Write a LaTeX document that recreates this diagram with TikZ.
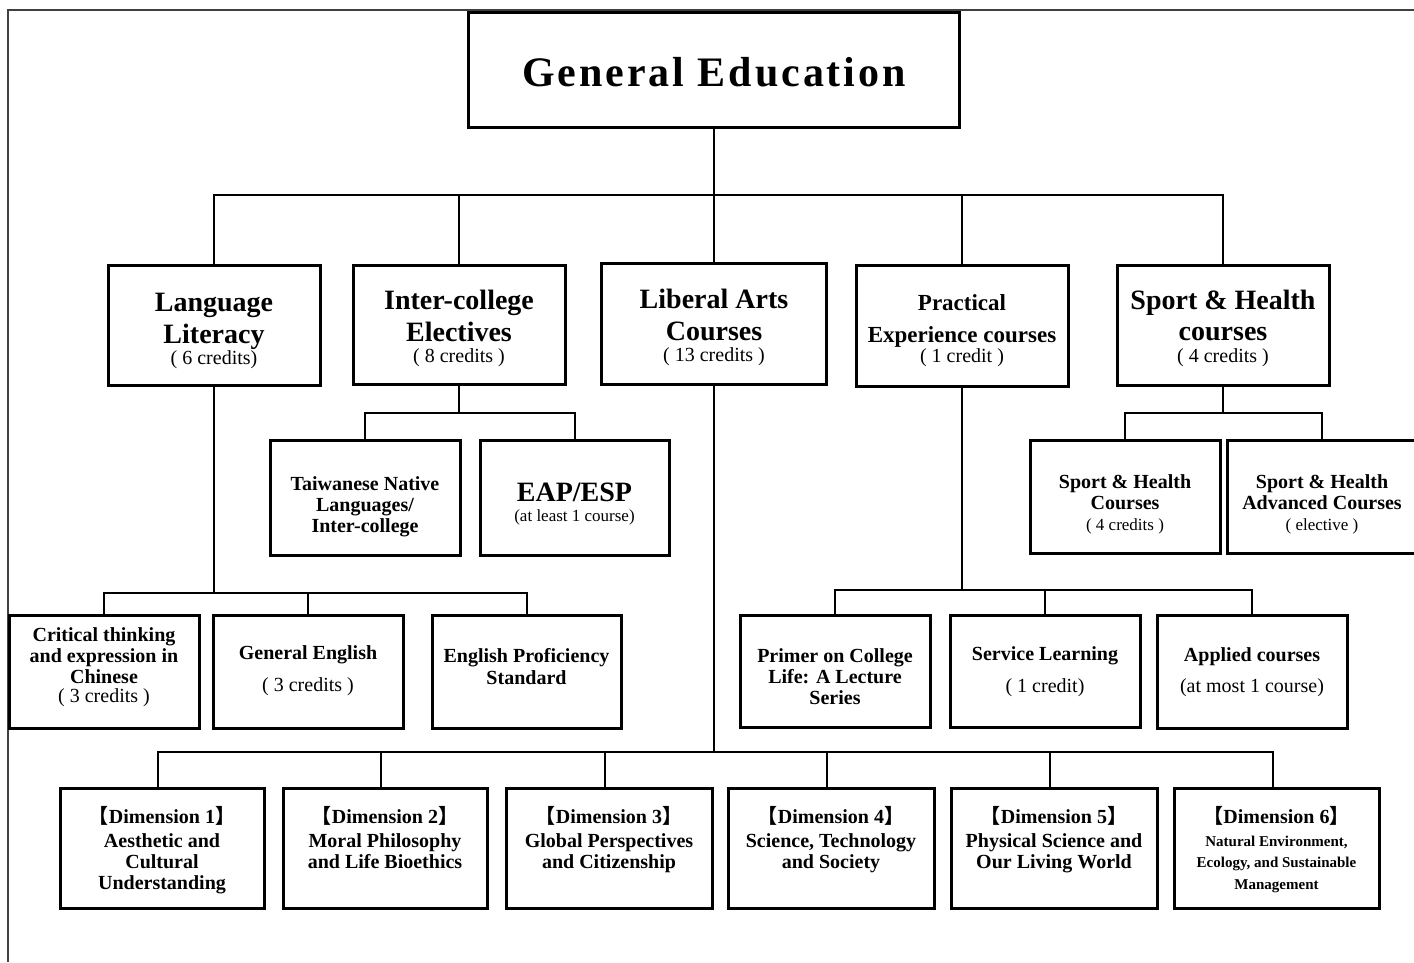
\documentclass[tikz,border=0pt]{standalone}
\usepackage{fontspec}
\setmainfont{Liberation Serif}
\newfontfamily\cjk{Noto Sans CJK SC}
\newfontfamily\gefont[LetterSpace=7]{Liberation Serif}
\newcommand{\lb}{{\cjk 【}}
\newcommand{\rb}{{\cjk 】}}
\tikzset{
  box/.style={draw, line width=3pt, inner sep=0pt, fill=white},
  conn/.style={line width=2pt},
  bt/.style={font=\fontsize{#1}{#1}\selectfont\bfseries, anchor=base, inner sep=0pt},
  rt/.style={font=\fontsize{#1}{#1}\selectfont, anchor=base, inner sep=0pt},
  frame/.style={line width=1.5pt, draw=black!75}
}
\begin{document}
\begin{tikzpicture}[x=1pt,y=-1pt]
\useasboundingbox (0,0) rectangle (1414,962);
\begin{scope}
\clip (0,0) rectangle (1414,962);
% frame
\coordinate (fr1) at (8,962);
\coordinate (fr2) at (8,10);
\coordinate (fr3) at (1420,10);
\draw[frame] (fr1) -- (fr2) -- (fr3);

% ---------- boxes ----------
\node[box, minimum width=491pt, minimum height=115pt] (ge) at (714,69.5) {};

\node[box, minimum width=212pt, minimum height=120pt] (ll) at (214,325) {};
\node[box, minimum width=212pt, minimum height=119pt] (ie) at (459,324.5) {};
\node[box, minimum width=225pt, minimum height=121pt] (la) at (714,323.5) {};
\node[box, minimum width=212pt, minimum height=121pt] (pe) at (962,325.5) {};
\node[box, minimum width=212pt, minimum height=120pt] (sh) at (1223,325) {};

\node[box, minimum width=190pt, minimum height=115pt] (tn) at (365,497.5) {};
\node[box, minimum width=189pt, minimum height=115pt] (eap) at (574.5,497.5) {};
\node[box, minimum width=190pt, minimum height=113pt] (shc) at (1125,496.5) {};
\node[box, minimum width=190pt, minimum height=113pt] (sha) at (1322,496.5) {};

\node[box, minimum width=190pt, minimum height=113pt] (ct) at (104,671.5) {};
\node[box, minimum width=190pt, minimum height=113pt] (gen) at (308,671.5) {};
\node[box, minimum width=189pt, minimum height=113pt] (eps) at (526.5,671.5) {};
\node[box, minimum width=190pt, minimum height=112pt] (pr) at (835,671) {};
\node[box, minimum width=190pt, minimum height=112pt] (sl) at (1045,671) {};
\node[box, minimum width=190pt, minimum height=113pt] (ac) at (1252,671.5) {};

\node[box, minimum width=204pt, minimum height=120pt] (d1) at (162,848) {};
\node[box, minimum width=204pt, minimum height=120pt] (d2) at (385,848) {};
\node[box, minimum width=206pt, minimum height=120pt] (d3) at (609,848) {};
\node[box, minimum width=206pt, minimum height=120pt] (d4) at (831,848) {};
\node[box, minimum width=206pt, minimum height=120pt] (d5) at (1054,848) {};
\node[box, minimum width=205pt, minimum height=120pt] (d6) at (1276.5,848) {};

% ---------- connectors ----------
\coordinate (b1) at (714,195);
\draw[conn] (ge.south) -- (b1);
\draw[conn] (ll.north) |- (b1) -| (sh.north);
\draw[conn] (ie.north) -- (ie.north |- b1);
\draw[conn] (la.north) -- (la.north |- b1);
\draw[conn] (pe.north) -- (pe.north |- b1);

\coordinate (b2) at (459,413);
\draw[conn] (ie.south) -- (b2);
\draw[conn] (tn.north) |- (b2) -| (eap.north);

\coordinate (b3) at (1223,413);
\draw[conn] (sh.south) -- (b3);
\draw[conn] (shc.north) |- (b3) -| (sha.north);

\coordinate (b4) at (214,593);
\draw[conn] (ll.south) -- (b4);
\draw[conn] (ct.north) |- (b4) -| (eps.north);
\draw[conn] (gen.north) -- (gen.north |- b4);

\coordinate (b5) at (962,590);
\draw[conn] (pe.south) -- (b5);
\draw[conn] (pr.north) |- (b5) -| (ac.north);
\draw[conn] (sl.north) -- (sl.north |- b5);

\coordinate (b6) at (714,752);
\draw[conn] (la.south) -- (b6);
\draw[conn] ([xshift=-4pt]d1.north) |- (b6) -| ([xshift=-3.5pt]d6.north);
\foreach \d in {d2,d3,d4,d5}
  \draw[conn] ([xshift=-4pt]\d.north) -- ([xshift=-4pt]\d.north |- b6);

% ---------- texts ----------
\node[anchor=base, inner sep=0pt, font=\gefont\bfseries\fontsize{42}{42}\selectfont] (get) at (714,86) {General Education};

\node[bt=28] (ll1) at (214,311) {Language};
\node[bt=28] (ll2) at (214,343) {Literacy};
\node[rt=20] (ll3) at (214,364) {( 6 credits)};

\node[bt=28] (ie1) at (459,309) {Inter-college};
\node[bt=28] (ie2) at (459,341) {Electives};
\node[rt=20] (ie3) at (459,362) {( 8 credits )};

\node[bt=28] (la1) at (714,308) {Liberal Arts};
\node[bt=28] (la2) at (714,340) {Courses};
\node[rt=20] (la3) at (714,361) {( 13 credits )};

\node[bt=23] (pe1) at (962,310) {Practical};
\node[bt=23] (pe2) at (962,342) {Experience courses};
\node[rt=20] (pe3) at (962,362) {( 1 credit )};

\node[bt=28] (sh1) at (1223,309) {Sport \& Health};
\node[bt=28] (sh2) at (1223,340) {courses};
\node[rt=20] (sh3) at (1223,362) {( 4 credits )};

\node[bt=20] (tn1) at (365,490) {Taiwanese Native};
\node[bt=20] (tn2) at (365,511) {Languages/};
\node[bt=20] (tn3) at (365,532) {Inter-college};

\node[bt=28] (eap1) at (574.5,501) {EAP/ESP};
\node[rt=17] (eap2) at (574.5,521) {(at least 1 course)};

\node[bt=20] (shc1) at (1125,488) {Sport \& Health};
\node[bt=20] (shc2) at (1125,509) {Courses};
\node[rt=17] (shc3) at (1125,530) {( 4 credits )};

\node[bt=20] (sha1) at (1322,488) {Sport \& Health};
\node[bt=20] (sha2) at (1322,509) {Advanced Courses};
\node[rt=17] (sha3) at (1322,530) {( elective )};

\node[bt=20] (ct1) at (104,641) {Critical thinking};
\node[bt=20] (ct2) at (104,662) {and expression in};
\node[bt=20] (ct3) at (104,683) {Chinese};
\node[rt=20] (ct4) at (104,702) {( 3 credits )};

\node[bt=20] (gen1) at (308,659) {General English};
\node[rt=20] (gen2) at (308,691) {( 3 credits )};

\node[bt=20] (eps1) at (526.5,662) {English Proficiency};
\node[bt=20] (eps2) at (526.5,684) {Standard};

\node[bt=20] (pr1) at (835,662) {Primer on College};
\node[bt=20] (pr2) at (835,683) {Life: A Lecture};
\node[bt=20] (pr3) at (835,704) {Series};

\node[bt=20] (sl1) at (1045,660) {Service Learning};
\node[rt=20] (sl2) at (1045,692) {( 1 credit)};

\node[bt=20] (ac1) at (1252,661) {Applied courses};
\node[rt=20] (ac2) at (1252,692) {(at most 1 course)};

\node[bt=20] (d1a) at (162,823) {\lb Dimension 1\rb};
\node[bt=20] (d1b) at (162,847) {Aesthetic and};
\node[bt=20] (d1c) at (162,868) {Cultural};
\node[bt=20] (d1d) at (162,889) {Understanding};

\node[bt=20] (d2a) at (385,823) {\lb Dimension 2\rb};
\node[bt=20] (d2b) at (385,847) {Moral Philosophy};
\node[bt=20] (d2c) at (385,868) {and Life Bioethics};

\node[bt=20] (d3a) at (609,823) {\lb Dimension 3\rb};
\node[bt=20] (d3b) at (609,847) {Global Perspectives};
\node[bt=20] (d3c) at (609,868) {and Citizenship};

\node[bt=20] (d4a) at (831,823) {\lb Dimension 4\rb};
\node[bt=20] (d4b) at (831,847) {Science, Technology};
\node[bt=20] (d4c) at (831,868) {and Society};

\node[bt=20] (d5a) at (1054,823) {\lb Dimension 5\rb};
\node[bt=20] (d5b) at (1054,847) {Physical Science and};
\node[bt=20] (d5c) at (1054,868) {Our Living World};

\node[bt=20] (d6a) at (1276.5,823) {\lb Dimension 6\rb};
\node[bt=15] (d6b) at (1276.5,846) {Natural Environment,};
\node[bt=15] (d6c) at (1276.5,867) {Ecology, and Sustainable};
\node[bt=15] (d6d) at (1276.5,889) {Management};
\end{scope}
\end{tikzpicture}
\end{document}
